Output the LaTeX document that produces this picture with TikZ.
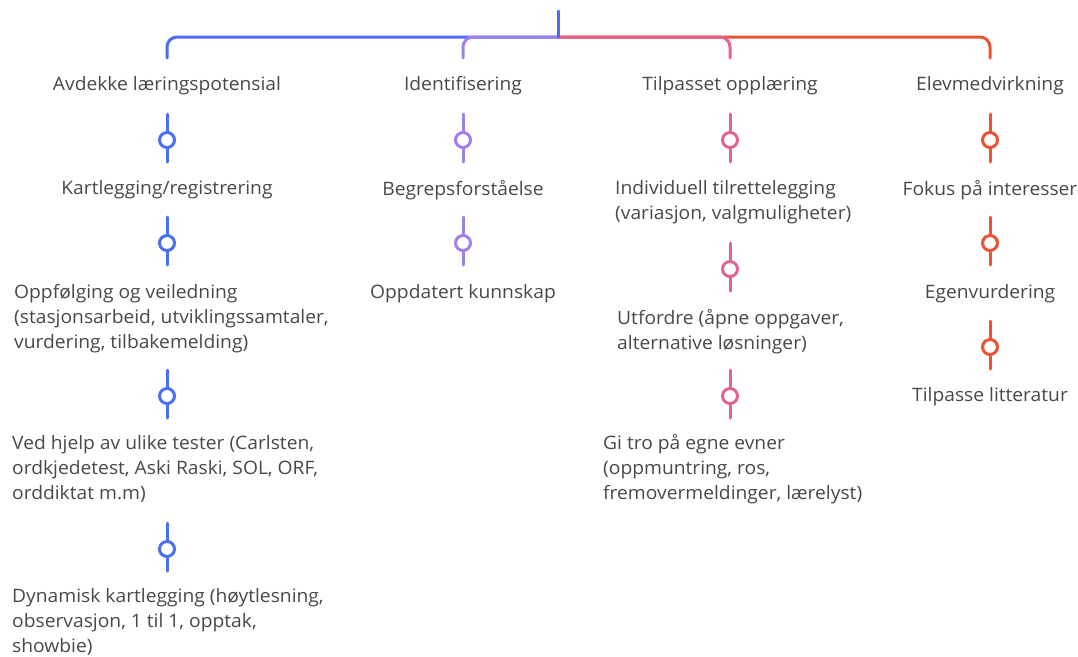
\documentclass[tikz,border=0pt]{standalone}
\usepackage{fontspec}
\setmainfont{Open Sans}[FakeStretch=1.04]
\definecolor{cblue}{RGB}{74,110,246}
\definecolor{cpurple}{RGB}{158,128,232}
\definecolor{cpink}{RGB}{226,100,140}
\definecolor{cred}{RGB}{234,84,52}
\definecolor{ctext}{RGB}{72,72,72}
\tikzset{
  x=1pt,y=-1pt,
  lbl/.style={text=ctext,font=\fontsize{18.5}{25}\selectfont,inner sep=0pt,align=left},
  wire/.style={line width=3pt,line cap=round,rounded corners=10pt},
  knot/.style={circle,draw,line width=3pt,fill=white,minimum size=15pt,inner sep=0pt},
}
\newcommand{\conn}[4]{% color, x, y, name
  \draw[#1,line width=3pt,line cap=round] (#2,#3-26) -- (#2,#3+22);
  \node[knot,draw=#1] (#4) at (#2,#3) {};
}
\begin{document}
\begin{tikzpicture}
\useasboundingbox (0,0) rectangle (1078,656);
\coordinate (top) at (558,11);
\coordinate (hub) at (558,37);
\coordinate (b1) at (167,58);
\coordinate (b2) at (463,58);
\coordinate (b3) at (730,58);
\coordinate (b4) at (990,58);
% bars
\draw[wire,cblue] (hub) -| (b1);
\draw[wire,cpurple] (hub) -| (b2);
\draw[wire,cred] (hub) -| (b4);
\draw[wire,cpink] (hub) -| (b3);
\draw[cblue,line width=3pt,line cap=round] (top) -- (hub);

% column 1
\node[lbl] (h1) at (167,86) {Avdekke læringspotensial};
\conn{cblue}{167}{140}{k11}
\node[lbl] (t11) at (167,190) {Kartlegging/registrering};
\conn{cblue}{167}{243}{k12}
\node[lbl,anchor=west] (t12) at (14,319) {Oppfølging og veiledning\\(stasjonsarbeid, utviklingssamtaler,\\vurdering, tilbakemelding)};
\conn{cblue}{167}{396}{k13}
\node[lbl,anchor=west] (t13) at (12,469) {Ved hjelp av ulike tester (Carlsten,\\ordkjedetest, Aski Raski, SOL, ORF,\\orddiktat m.m)};
\conn{cblue}{167}{549}{k14}
\node[lbl,anchor=west] (t14) at (12,622) {Dynamisk kartlegging (høytlesning,\\observasjon, 1 til 1, opptak,\\showbie)};

% column 2
\node[lbl] (h2) at (463,86) {Identifisering};
\conn{cpurple}{463}{140}{k21}
\node[lbl] (t21) at (463,190) {Begrepsforståelse};
\conn{cpurple}{463}{243}{k22}
\node[lbl] (t22) at (463,294) {Oppdatert kunnskap};

% column 3
\node[lbl] (h3) at (730,86) {Tilpasset opplæring};
\conn{cpink}{730}{140}{k31}
\node[lbl,anchor=west] (t31) at (615,202.5) {Individuell tilrettelegging\\(variasjon, valgmuligheter)};
\conn{cpink}{730}{269}{k32}
\node[lbl,anchor=west] (t32) at (617,331.5) {Utfordre (åpne oppgaver,\\alternative løsninger)};
\conn{cpink}{730}{396}{k33}
\node[lbl,anchor=west] (t33) at (603,469) {Gi tro på egne evner\\(oppmuntring, ros,\\fremovermeldinger, lærelyst)};

% column 4
\node[lbl] (h4) at (990,86) {Elevmedvirkning};
\conn{cred}{990}{140}{k41}
\node[lbl] (t41) at (990,190) {Fokus på interesser};
\conn{cred}{990}{243}{k42}
\node[lbl] (t42) at (990,294) {Egenvurdering};
\conn{cred}{990}{347}{k43}
\node[lbl] (t43) at (990,397) {Tilpasse litteratur};
\end{tikzpicture}
\end{document}
